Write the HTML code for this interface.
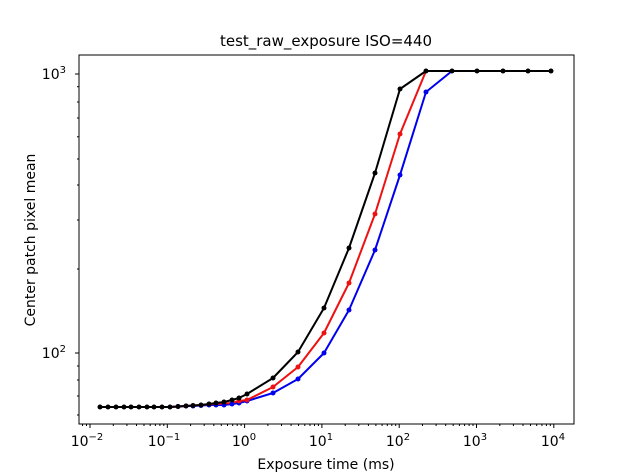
<!DOCTYPE html>
<html><head><meta charset="utf-8"><style>
html,body{margin:0;padding:0;background:#fff;}
svg{display:block;font-family:"DejaVu Sans","Liberation Sans",sans-serif;}
</style></head><body>
<svg width="633" height="474" viewBox="0 0 633 474" xmlns="http://www.w3.org/2000/svg">
<rect width="633" height="474" fill="#fff"/>
<text x="326" y="46" font-size="15" text-anchor="middle">test_raw_exposure ISO=440</text>
<g stroke="#000" stroke-width="1">
<!-- y major -->
<line x1="75" y1="74" x2="79" y2="74"/><line x1="75" y1="353" x2="79" y2="353"/>
<!-- y minor -->
<g>
<line x1="77" y1="86.7" x2="79" y2="86.7"/><line x1="77" y1="102" x2="79" y2="102"/><line x1="77" y1="118" x2="79" y2="118"/><line x1="77" y1="136.8" x2="79" y2="136.8"/><line x1="77" y1="159" x2="79" y2="159"/><line x1="77" y1="185" x2="79" y2="185"/><line x1="77" y1="220" x2="79" y2="220"/><line x1="77" y1="269" x2="79" y2="269"/>
<line x1="77" y1="366" x2="79" y2="366"/><line x1="77" y1="380" x2="79" y2="380"/><line x1="77" y1="396" x2="79" y2="396"/><line x1="77" y1="415" x2="79" y2="415"/>
</g>
<!-- x major -->
<line x1="90" y1="424" x2="90" y2="428"/><line x1="167.3" y1="424" x2="167.3" y2="428"/><line x1="244.6" y1="424" x2="244.6" y2="428"/><line x1="321.9" y1="424" x2="321.9" y2="428"/><line x1="399.2" y1="424" x2="399.2" y2="428"/><line x1="476.5" y1="424" x2="476.5" y2="428"/><line x1="553.8" y1="424" x2="553.8" y2="428"/>
<!-- x minor -->
<path d="M82.5 424v2M86.5 424v2
M113.3 424v2M126.9 424v2M136.5 424v2M144 424v2M150.2 424v2M155.4 424v2M159.9 424v2M163.8 424v2
M190.6 424v2M204.2 424v2M213.8 424v2M221.3 424v2M227.5 424v2M232.7 424v2M237.2 424v2M241.1 424v2
M267.9 424v2M281.5 424v2M291.1 424v2M298.6 424v2M304.8 424v2M310 424v2M314.5 424v2M318.4 424v2
M345.2 424v2M358.8 424v2M368.4 424v2M375.9 424v2M382.1 424v2M387.3 424v2M391.8 424v2M395.7 424v2
M422.5 424v2M436.1 424v2M445.7 424v2M453.2 424v2M459.4 424v2M464.6 424v2M469.1 424v2M473 424v2
M499.8 424v2M513.4 424v2M523 424v2M530.5 424v2M536.7 424v2M541.9 424v2M546.4 424v2M550.3 424v2
M577 424v0" fill="none"/>
</g>
<g font-size="14" text-anchor="end">
<text x="66" y="79">10<tspan dy="-6" font-size="10">3</tspan></text>
<text x="66" y="358">10<tspan dy="-6" font-size="10">2</tspan></text>
</g>
<g font-size="14" text-anchor="middle">
<text x="87" y="446">10<tspan dy="-6" font-size="10">−2</tspan></text>
<text x="164" y="446">10<tspan dy="-6" font-size="10">−1</tspan></text>
<text x="244" y="446">10<tspan dy="-6" font-size="10">0</tspan></text>
<text x="321" y="446">10<tspan dy="-6" font-size="10">1</tspan></text>
<text x="398" y="446">10<tspan dy="-6" font-size="10">2</tspan></text>
<text x="475" y="446">10<tspan dy="-6" font-size="10">3</tspan></text>
<text x="553" y="446">10<tspan dy="-6" font-size="10">4</tspan></text>
</g>
<text x="326" y="469" font-size="14" text-anchor="middle">Exposure time (ms)</text>
<text transform="translate(35,240) rotate(-90)" font-size="14" text-anchor="middle">Center patch pixel mean</text>

<g fill="none" stroke-width="2" stroke-linejoin="round">
<polyline stroke="#0000ee" points="100,407 108,407 116,407 124,407 131,407 139,407 147,407 154,407 162,407 170,407 178,406.5 186,406 193,406 201,405.5 209,405 216,405 224,405 232,404 239,403 247,401 273,393 298,379 324,353 349,310 375,250 400,175 426,92 452,71 477,71 503,71 528,71 551,71"/>
<polyline stroke="#ee1111" points="100,407 108,407 116,407 124,407 131,407 139,407 147,407 154,407 162,407 170,407 178,406.5 186,406 193,405.5 201,405 209,404.5 216,404 224,403.5 232,403 239,401 247,400 273,387 298,367 324,333 349,283 375,214 400,134 426,71 452,71 477,71 503,71 528,71 551,71"/>
<polyline stroke="#000" points="100,407 108,407 116,407 124,407 131,407 139,407 147,407 154,407 162,407 170,407 178,406.5 186,406 193,405.5 201,405 209,404 216,403 224,402 232,400 239,398 247,394 273,378 298,352 324,308 349,248 375,173 400,89 426,71 452,71 477,71 503,71 528,71 551,71"/>
</g>
<g fill="#0000ee">
<circle cx="178" cy="406.5" r="2.5"/><circle cx="186" cy="406" r="2.5"/><circle cx="193" cy="406" r="2.5"/><circle cx="201" cy="405.5" r="2.5"/><circle cx="209" cy="405" r="2.5"/><circle cx="216" cy="405" r="2.5"/><circle cx="224" cy="405" r="2.5"/><circle cx="232" cy="404" r="2.5"/><circle cx="239" cy="403" r="2.5"/><circle cx="247" cy="401" r="2.5"/><circle cx="273" cy="393" r="2.5"/><circle cx="298" cy="379" r="2.5"/><circle cx="324" cy="353" r="2.5"/><circle cx="349" cy="310" r="2.5"/><circle cx="375" cy="250" r="2.5"/><circle cx="400" cy="175" r="2.5"/><circle cx="426" cy="92" r="2.5"/>
</g>
<g fill="#ee1111">
<circle cx="239" cy="401" r="2.5"/><circle cx="247" cy="400" r="2.5"/><circle cx="273" cy="387" r="2.5"/><circle cx="298" cy="367" r="2.5"/><circle cx="324" cy="333" r="2.5"/><circle cx="349" cy="283" r="2.5"/><circle cx="375" cy="214" r="2.5"/><circle cx="400" cy="134" r="2.5"/>
</g>
<g fill="#000">
<circle cx="100" cy="407" r="2.5"/><circle cx="108" cy="407" r="2.5"/><circle cx="116" cy="407" r="2.5"/><circle cx="124" cy="407" r="2.5"/><circle cx="131" cy="407" r="2.5"/><circle cx="139" cy="407" r="2.5"/><circle cx="147" cy="407" r="2.5"/><circle cx="154" cy="407" r="2.5"/><circle cx="162" cy="407" r="2.5"/><circle cx="170" cy="407" r="2.5"/><circle cx="178" cy="406.5" r="2.5"/><circle cx="186" cy="406" r="2.5"/><circle cx="193" cy="405.5" r="2.5"/><circle cx="201" cy="405" r="2.5"/><circle cx="209" cy="404" r="2.5"/><circle cx="216" cy="403" r="2.5"/><circle cx="224" cy="402" r="2.5"/><circle cx="232" cy="400" r="2.5"/><circle cx="239" cy="398" r="2.5"/><circle cx="247" cy="394" r="2.5"/><circle cx="273" cy="378" r="2.5"/><circle cx="298" cy="352" r="2.5"/><circle cx="324" cy="308" r="2.5"/><circle cx="349" cy="248" r="2.5"/><circle cx="375" cy="173" r="2.5"/><circle cx="400" cy="89" r="2.5"/><circle cx="426" cy="71" r="2.5"/><circle cx="452" cy="71" r="2.5"/><circle cx="477" cy="71" r="2.5"/><circle cx="503" cy="71" r="2.5"/><circle cx="528" cy="71" r="2.5"/><circle cx="551" cy="71" r="2.5"/>
</g>
<rect x="79" y="55" width="495" height="369" fill="none" stroke="#000" stroke-width="1"/>
</svg>
</body></html>
